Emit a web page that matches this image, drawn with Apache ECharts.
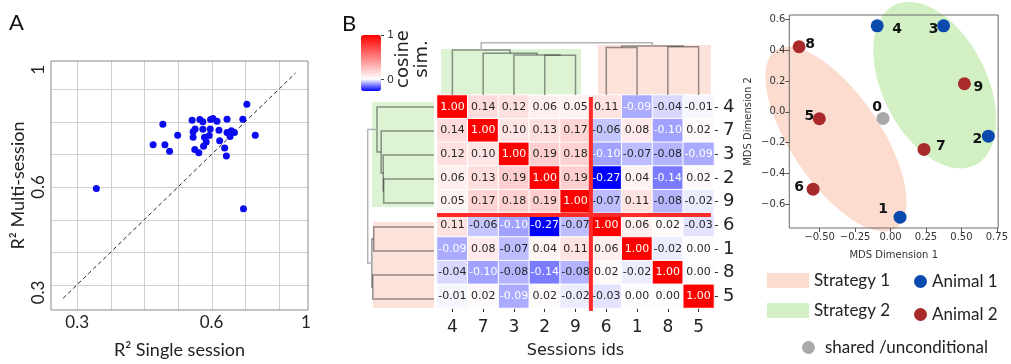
<!DOCTYPE html>
<html>
<head>
<meta charset="utf-8">
<script src="https://cdn.jsdelivr.net/npm/echarts@6/dist/echarts.min.js"></script>
<style>
  html, body { margin: 0; padding: 0; background: #fff; }
  #chart { width: 1011px; height: 364px; }
</style>
</head>
<body>
<div id="chart"></div>
<script>
// ---- panel A: R2 single session vs multi session
const singleR2 = [0.357, 0.526, 0.555, 0.561, 0.575, 0.599, 0.642, 0.645, 0.645, 0.650,
  0.651, 0.662, 0.665, 0.674, 0.674, 0.676, 0.679, 0.684, 0.693, 0.696,
  0.697, 0.704, 0.716, 0.722, 0.724, 0.739, 0.744, 0.746, 0.746, 0.752,
  0.755, 0.759, 0.768, 0.793, 0.805, 0.830, 0.795];
const multiR2 = [0.595, 0.730, 0.793, 0.730, 0.710, 0.759, 0.805, 0.770, 0.753, 0.715,
  0.778, 0.705, 0.807, 0.800, 0.777, 0.725, 0.753, 0.738, 0.758, 0.778,
  0.807, 0.810, 0.802, 0.774, 0.742, 0.720, 0.695, 0.808, 0.767, 0.765,
  0.755, 0.773, 0.767, 0.808, 0.854, 0.759, 0.533];
const identityLine = [0.258, 0.95];
const aGridValues = [0.3, 0.4, 0.5, 0.6, 0.7, 0.8, 0.9];
// tick labels as they sit in the figure
const aXTickValues = [0.3, 0.7, 0.981];
const aYTickValues = [0.276, 0.6, 0.96];
const aTickLabels = ['0.3', '0.6', '1'];

// ---- panel B: cosine similarity between sessions (clustered order)
const sessionOrder = ['4', '7', '3', '2', '9', '6', '1', '8', '5'];
const simMatrix = [
  [1.00, 0.14, 0.12, 0.06, 0.05, 0.11, -0.09, -0.04, -0.01],
  [0.14, 1.00, 0.10, 0.13, 0.17, -0.06, 0.08, -0.10, 0.02],
  [0.12, 0.10, 1.00, 0.19, 0.18, -0.10, -0.07, -0.08, -0.09],
  [0.06, 0.13, 0.19, 1.00, 0.19, -0.27, 0.04, -0.14, 0.02],
  [0.05, 0.17, 0.18, 0.19, 1.00, -0.07, 0.11, -0.08, -0.02],
  [0.11, -0.06, -0.10, -0.27, -0.07, 1.00, 0.06, 0.02, -0.03],
  [-0.09, 0.08, -0.07, 0.04, 0.11, 0.06, 1.00, -0.02, 0.00],
  [-0.04, -0.10, -0.08, -0.14, -0.08, 0.02, -0.02, 1.00, 0.00],
  [-0.01, 0.02, -0.09, 0.02, -0.02, -0.03, 0.00, 0.00, 1.00]
];
const simMin = -0.27;
const simMax = 1;
// linkage: [childA, childB, height]; strings are sessions, numbers earlier merges
const linkage = [
  ['2', '9', 0.759],
  ['3', 0, 0.765],
  ['7', 1, 0.797],
  ['4', 2, 0.86],
  ['6', '1', 0.91],
  ['8', '5', 0.924],
  [4, 5, 0.937],
  [3, 6, 1.0]
];

// ---- panel C: MDS of session embeddings
const mdsIds = ['4', '3', '8', '9', '0', '5', '2', '7', '6', '1'];
const mdsX = [-0.094, 0.374, -0.645, 0.521, -0.053, -0.502, 0.690, 0.236, -0.546, 0.067];
const mdsY = [0.558, 0.558, 0.422, 0.182, -0.043, -0.045, -0.158, -0.244, -0.502, -0.684];
const mdsGroup = ['Animal 1', 'Animal 1', 'Animal 2', 'Animal 2', 'shared /unconditional',
  'Animal 2', 'Animal 1', 'Animal 2', 'Animal 2', 'Animal 1'];
const mdsXTicks = [-0.5, -0.25, 0, 0.25, 0.5, 0.75];
const mdsYTicks = [-0.6, -0.4, -0.2, 0, 0.2, 0.4, 0.6];
// strategy regions: centre + two semi-axis vectors, data units
const strategyEllipses = [
  { name: 'Strategy 1', c: [-0.385, -0.177], a: [0.427, -0.575], b: [0.2565, 0.1695] },
  { name: 'Strategy 2', c: [0.312, 0.173], a: [0.2905, -0.516], b: [0.322, 0.1615] }
];

// styles
const PINK = '#fcdccf';
const GREEN = '#d3f0c5';
const BOX_PINK = '#fde2d9';
const BOX_GREEN = '#dcf3d4';
const groupColor = { 'Animal 1': '#0a4aad', 'Animal 2': '#a82a2a', 'shared /unconditional': '#a9a9a9' };
const labelOffset = {
  '4': [20, 4], '3': [-10, 4], '8': [11, -2], '9': [14, 4], '0': [-6, -11],
  '5': [-10, -2], '2': [-11, 3], '7': [17, -3], '6': [-14, -2], '1': [-17, -8]
};
const SANS = 'Lato';
const MPL = 'DejaVu Sans';

// colour map: blue -> white at 0 -> red
function simColor(v) {
  if (v < 0) {
    const c = Math.round(255 * (1 - Math.min(1, v / simMin)));
    return 'rgb(' + c + ',' + c + ',255)';
  }
  const c = Math.round(255 * (1 - Math.min(1, v / simMax)));
  return 'rgb(255,' + c + ',' + c + ')';
}
const cmapStops = [];
for (let k = 0; k <= 120; k++) cmapStops.push(simColor(simMin + (simMax - simMin) * k / 120));

const heatData = [];
simMatrix.forEach((row, i) => row.forEach((v, j) => {
  heatData.push({
    value: [j, i, v],
    label: { color: (v >= 0.5 || v <= -0.085) ? '#fff' : '#262626' }
  });
}));

// dendrogram links [posA, hA, posB, hB, h]
const nodes = [];
function nodeOf(k) {
  if (typeof k === 'string') return { pos: sessionOrder.indexOf(k) + 0.5, h: 0 };
  return nodes[k];
}
const links = linkage.map(([a, b, h]) => {
  const na = nodeOf(a), nb = nodeOf(b);
  nodes.push({ pos: (na.pos + nb.pos) / 2, h: h });
  return [na.pos, na.h, nb.pos, nb.h, h];
});

function dendroRender(horizontal) {
  return (params, api) => {
    const d = links[params.dataIndex];
    const p = (pos, h) => horizontal ? api.coord([pos, h]) : api.coord([h, pos]);
    const isRoot = params.dataIndex === links.length - 1;
    return {
      type: 'polyline',
      shape: { points: [p(d[0], d[1]), p(d[0], d[4]), p(d[2], d[4]), p(d[2], d[3])] },
      style: { stroke: isRoot ? '#b3b3b3' : 'rgba(45,45,45,0.5)', lineWidth: 1.5, fill: null }
    };
  };
}
const topBoxes = [[0.13, 4.68, 0, 0.88], [5.23, 8.9, 0, 0.956]];
const leftBoxes = [[0.29, 4.67, 0, 0.935], [5.29, 8.875, 0, 0.92]];
const boxColors = [BOX_GREEN, BOX_PINK];
function boxRender(boxes, horizontal) {
  return (params, api) => {
    const b = boxes[params.dataIndex];
    const p1 = horizontal ? api.coord([b[0], b[3]]) : api.coord([b[3], b[0]]);
    const p2 = horizontal ? api.coord([b[1], b[2]]) : api.coord([b[2], b[1]]);
    return {
      type: 'rect',
      shape: { x: Math.min(p1[0], p2[0]), y: Math.min(p1[1], p2[1]),
        width: Math.abs(p2[0] - p1[0]), height: Math.abs(p2[1] - p1[1]) },
      style: { fill: boxColors[params.dataIndex] }
    };
  };
}

// light grid of panel A, one line per value
function gridLineRender(vertical) {
  return (params, api) => {
    const cs = params.coordSys;
    const v = aGridValues[params.dataIndex];
    const pt = api.coord([v, v]);
    const shape = vertical
      ? { x1: Math.round(pt[0]) + 0.5, y1: cs.y, x2: Math.round(pt[0]) + 0.5, y2: cs.y + cs.height }
      : { x1: cs.x, y1: Math.round(pt[1]) + 0.5, x2: cs.x + cs.width, y2: Math.round(pt[1]) + 0.5 };
    return { type: 'line', shape: shape, style: { stroke: '#d0d0d0', lineWidth: 1 } };
  };
}

function ellipseSeries(e, color) {
  return {
    type: 'custom', name: e.name, xAxisIndex: 5, yAxisIndex: 5, z: 1, clip: false,
    itemStyle: { color: color }, silent: true,
    data: [e.c],
    renderItem: (params, api) => {
      const pts = [];
      for (let k = 0; k < 90; k++) {
        const t = k / 90 * Math.PI * 2;
        pts.push(api.coord([
          e.c[0] + e.a[0] * Math.cos(t) + e.b[0] * Math.sin(t),
          e.c[1] + e.a[1] * Math.cos(t) + e.b[1] * Math.sin(t)
        ]));
      }
      return { type: 'polygon', shape: { points: pts }, style: { fill: color } };
    }
  };
}

function mdsSeries(group) {
  const data = [];
  mdsIds.forEach((id, i) => {
    if (mdsGroup[i] !== group) return;
    data.push({
      value: [mdsX[i], mdsY[i]], name: id,
      label: { offset: labelOffset[id] }
    });
  });
  return {
    type: 'scatter', name: group, xAxisIndex: 5, yAxisIndex: 5, z: 5,
    symbolSize: 13, itemStyle: { color: groupColor[group], opacity: 1 },
    label: {
      show: true, position: 'inside', formatter: '{b}', color: '#111',
      fontFamily: MPL, fontWeight: 'bold', fontSize: 14
    },
    data: data
  };
}

const minus = (v, d) => (v < 0 ? '\u2212' : '') + Math.abs(v).toFixed(d);
const hidden = { show: false };
const noLine = { show: false, onZero: false };

const chart = echarts.init(document.getElementById('chart'));
chart.setOption({
  animation: false,
  textStyle: { fontFamily: SANS },
  grid: [
    { left: 51, top: 61, width: 257, height: 255, show: true, borderColor: '#8a8a8a', borderWidth: 1, z: 3 },
    { left: 437, top: 95, width: 277, height: 216 },
    { left: 437, top: 42.7, width: 277, height: 52.3 },
    { left: 367.7, top: 95, width: 66.3, height: 216 },
    { left: 437, top: 95, width: 277, height: 216 },
    { left: 789.3, top: 15, width: 214, height: 213, show: true, borderColor: '#6a6a6a', borderWidth: 1, z: 3 }
  ],
  xAxis: [
    {
      gridIndex: 0, type: 'value', min: 0.222, max: 0.987,
      axisLine: noLine, axisTick: hidden, splitLine: hidden,
      axisLabel: {
        customValues: aXTickValues, margin: 4, fontSize: 17, color: '#222', fontFamily: SANS,
        formatter: v => aTickLabels[aXTickValues.indexOf(v)]
      },
      name: 'R\u00b2 Single session', nameLocation: 'middle', nameGap: 31,
      nameTextStyle: { fontSize: 18, color: '#222', fontFamily: SANS }
    },
    {
      gridIndex: 1, type: 'category', data: sessionOrder, position: 'bottom',
      axisLine: noLine,
      axisTick: { show: true, alignWithLabel: true, length: 4, lineStyle: { color: '#333' } },
      axisLabel: { fontSize: 17, color: '#222', fontFamily: MPL, margin: 11 },
      name: 'Sessions ids', nameLocation: 'middle', nameGap: 35,
      nameTextStyle: { fontSize: 16, color: '#222', fontFamily: MPL }
    },
    { gridIndex: 2, type: 'value', min: 0, max: 9, show: false },
    { gridIndex: 3, type: 'value', min: 0, max: 1, inverse: true, show: false },
    { gridIndex: 4, type: 'value', min: 0, max: 9, show: false },
    {
      gridIndex: 5, type: 'value', min: -0.714, max: 0.759, z: 3,
      axisLine: noLine, splitLine: hidden,
      axisTick: { show: true, customValues: mdsXTicks, length: 4, lineStyle: { color: '#555' } },
      axisLabel: { customValues: mdsXTicks, formatter: v => minus(v, 2), fontSize: 10, color: '#333', fontFamily: MPL, margin: 4 },
      name: 'MDS Dimension 1', nameLocation: 'middle', nameGap: 22,
      nameTextStyle: { fontSize: 10, color: '#333', fontFamily: MPL }
    }
  ],
  yAxis: [
    {
      gridIndex: 0, type: 'value', min: 0.222, max: 0.987,
      axisLine: noLine, axisTick: hidden, splitLine: hidden,
      axisLabel: {
        customValues: aYTickValues, margin: 4, rotate: 90, fontSize: 17, color: '#222', fontFamily: SANS,
        formatter: v => aTickLabels[aYTickValues.indexOf(v)]
      },
      name: 'R\u00b2 Multi-session', nameLocation: 'middle', nameGap: 24,
      nameTextStyle: { fontSize: 18, color: '#222', fontFamily: SANS }
    },
    {
      gridIndex: 1, type: 'category', data: sessionOrder, inverse: true, position: 'right',
      axisLine: noLine,
      axisTick: { show: true, alignWithLabel: true, length: 4, lineStyle: { color: '#333' } },
      axisLabel: { fontSize: 18, color: '#222', fontFamily: MPL, margin: 9 }
    },
    { gridIndex: 2, type: 'value', min: 0, max: 1, show: false },
    { gridIndex: 3, type: 'value', min: 0, max: 9, inverse: true, show: false },
    { gridIndex: 4, type: 'value', min: 0, max: 9, inverse: true, show: false },
    {
      gridIndex: 5, type: 'value', min: -0.754, max: 0.628, z: 3,
      axisLine: noLine, splitLine: hidden,
      axisTick: { show: true, customValues: mdsYTicks, length: 4, lineStyle: { color: '#555' } },
      axisLabel: { customValues: mdsYTicks, formatter: v => minus(v, 1), fontSize: 10, color: '#333', fontFamily: MPL, margin: 4 },
      name: 'MDS Dimension 2', nameLocation: 'middle', nameGap: 36,
      nameTextStyle: { fontSize: 10, color: '#333', fontFamily: MPL }
    }
  ],
  visualMap: {
    type: 'continuous', min: simMin, max: simMax, dimension: 2, seriesIndex: 2,
    inRange: { color: cmapStops }, calculable: false, hoverLink: false,
    left: 361, top: 35, itemWidth: 20, itemHeight: 56, padding: 0
  },
  legend: [
    {
      data: ['Strategy 1', 'Strategy 2'], left: 767, top: 272, orient: 'vertical',
      icon: 'rect', itemWidth: 42, itemHeight: 15, itemGap: 13, padding: 0, selectedMode: false,
      textStyle: { fontFamily: SANS, fontSize: 17, color: '#222' }
    },
    {
      data: ['Animal 1', 'Animal 2'], left: 914, top: 273, orient: 'vertical',
      icon: 'circle', itemWidth: 13, itemHeight: 13, itemGap: 16, padding: 0, selectedMode: false,
      textStyle: { fontFamily: SANS, fontSize: 17, color: '#222' }
    },
    {
      data: ['shared /unconditional'], left: 802, top: 339, orient: 'vertical',
      icon: 'circle', itemWidth: 13, itemHeight: 13, padding: 0, selectedMode: false,
      textStyle: { fontFamily: SANS, fontSize: 17, color: '#222', padding: [0, 0, 0, 5] }
    }
  ],
  graphic: [
    { type: 'text', x: 9, y: 12, style: { text: 'A', font: '22px ' + SANS, fill: '#111' } },
    { type: 'text', x: 342, y: 13, style: { text: 'B', font: '22px ' + SANS, fill: '#111' } },
    { type: 'line', shape: { x1: 381, y1: 35.5, x2: 384, y2: 35.5 }, style: { stroke: '#444', lineWidth: 1 } },
    { type: 'line', shape: { x1: 381, y1: 79.5, x2: 384, y2: 79.5 }, style: { stroke: '#444', lineWidth: 1 } },
    { type: 'text', x: 387, y: 35, style: { text: '1', font: '11px ' + MPL, fill: '#333', verticalAlign: 'middle' } },
    { type: 'text', x: 387, y: 80, style: { text: '0', font: '11px ' + MPL, fill: '#333', verticalAlign: 'middle' } },
    { type: 'text', x: 403, y: 59, rotation: Math.PI / 2,
      style: { text: 'cosine', font: '18px ' + MPL, fill: '#222', align: 'center', verticalAlign: 'middle' } },
    { type: 'text', x: 422, y: 59, rotation: Math.PI / 2,
      style: { text: 'sim.', font: '18px ' + MPL, fill: '#222', align: 'center', verticalAlign: 'middle' } }
  ],
  series: [
    {
      type: 'scatter', xAxisIndex: 0, yAxisIndex: 0, z: 4, symbolSize: 7,
      itemStyle: { color: '#0b0bef', opacity: 1 },
      data: singleR2.map((v, i) => [v, multiR2[i]])
    },
    {
      type: 'line', xAxisIndex: 0, yAxisIndex: 0, z: 3, symbol: 'none',
      lineStyle: { color: '#222', width: 1, type: [4, 3] },
      data: [[identityLine[0], identityLine[0]], [identityLine[1], identityLine[1]]]
    },
    {
      type: 'heatmap', xAxisIndex: 1, yAxisIndex: 1,
      itemStyle: { borderColor: '#fff', borderWidth: 1 },
      label: { show: true, fontFamily: MPL, fontSize: 11, formatter: p => p.value[2].toFixed(2) },
      emphasis: { disabled: true },
      data: heatData
    },
    {
      type: 'custom', xAxisIndex: 2, yAxisIndex: 2, z: 1, silent: true,
      data: topBoxes, renderItem: boxRender(topBoxes, true)
    },
    {
      type: 'custom', xAxisIndex: 2, yAxisIndex: 2, z: 2, silent: true, clip: false,
      data: links, renderItem: dendroRender(true)
    },
    {
      type: 'custom', xAxisIndex: 3, yAxisIndex: 3, z: 1, silent: true,
      data: leftBoxes, renderItem: boxRender(leftBoxes, false)
    },
    {
      type: 'custom', xAxisIndex: 3, yAxisIndex: 3, z: 2, silent: true, clip: false,
      data: links, renderItem: dendroRender(false)
    },
    {
      type: 'line', xAxisIndex: 4, yAxisIndex: 4, z: 6, symbol: 'none', silent: true,
      lineStyle: { color: '#ff2a2a', width: 4 },
      data: [[5, 0.08], [5, 9]]
    },
    {
      type: 'line', xAxisIndex: 4, yAxisIndex: 4, z: 6, symbol: 'none', silent: true,
      lineStyle: { color: '#ff2a2a', width: 4 },
      data: [[0, 5], [8.9, 5]]
    },
    ellipseSeries(strategyEllipses[0], PINK),
    ellipseSeries(strategyEllipses[1], GREEN),
    mdsSeries('Animal 1'),
    mdsSeries('Animal 2'),
    mdsSeries('shared /unconditional'),
    {
      type: 'custom', xAxisIndex: 0, yAxisIndex: 0, z: 1, silent: true,
      data: aGridValues.map(v => [v, v]), renderItem: gridLineRender(true)
    },
    {
      type: 'custom', xAxisIndex: 0, yAxisIndex: 0, z: 1, silent: true,
      data: aGridValues.map(v => [v, v]), renderItem: gridLineRender(false)
    }
  ]
});
</script>
</body>
</html>
